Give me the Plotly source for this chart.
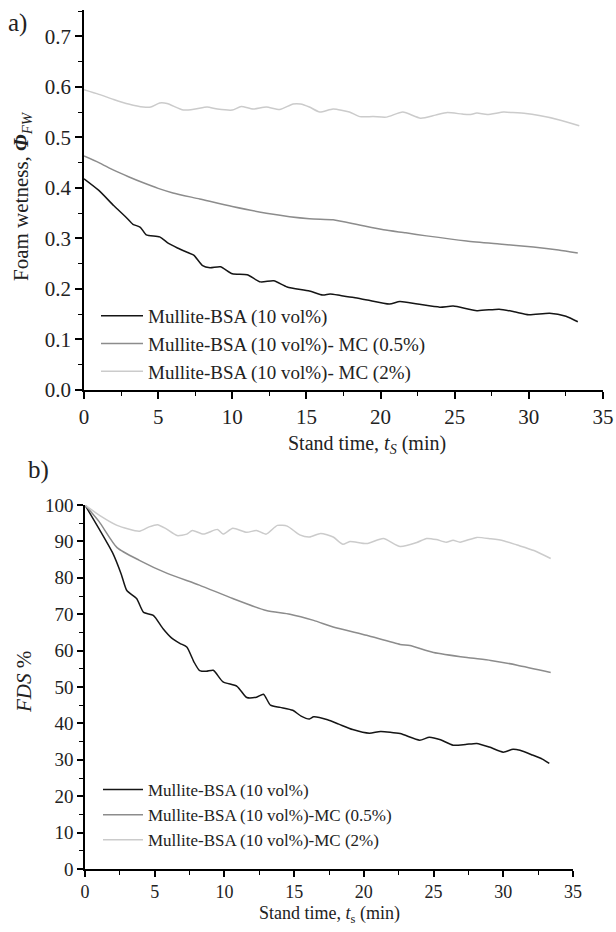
import plotly.graph_objects as go

# ---- Data: panel a) foam wetness ----
t_a_bsa = [0, 1, 2, 2.9, 3.3, 3.8, 4.2, 5.1, 5.7, 6.3, 7.0, 7.4, 8.0, 8.5, 9.2, 10.0, 11.0, 11.9, 12.8, 13.7,
           15.2, 16.1, 16.6, 17.3, 18.2, 19.1, 20.6, 21.3, 22.5, 24.0, 24.9, 26.5, 28.0, 29.0, 30.0, 31.4, 32.5, 33.3]
v_a_bsa = [0.418, 0.395, 0.365, 0.340, 0.328, 0.322, 0.307, 0.303, 0.290, 0.281, 0.272, 0.267, 0.246, 0.242, 0.244,
           0.230, 0.228, 0.214, 0.216, 0.204, 0.196, 0.188, 0.190, 0.187, 0.183, 0.178, 0.170, 0.175, 0.170, 0.164,
           0.166, 0.157, 0.160, 0.155, 0.149, 0.152, 0.146, 0.135]
t_a_mc05 = [0, 1, 2, 3, 4, 5, 6, 7.8, 10, 12.3, 15.2, 16.8, 18.5, 20.2, 21.7, 23.1, 25.8, 28, 30.3, 32, 33.3]
v_a_mc05 = [0.463, 0.450, 0.435, 0.422, 0.410, 0.399, 0.390, 0.378, 0.363, 0.350, 0.339, 0.337, 0.327, 0.317, 0.311,
            0.305, 0.295, 0.289, 0.283, 0.277, 0.271]
t_a_mc2 = [0, 1, 2, 3, 4, 4.5, 5.1, 5.6, 6.7, 7.5, 8.3, 9, 10, 10.6, 11.4, 12.3, 13.2, 14.1, 14.6, 15.2, 15.9, 16.8,
           17.9, 18.6, 19.5, 20.4, 21.5, 22.7, 23.7, 24.5, 25.5, 26, 26.5, 27.2, 28.3, 28.9, 29.8, 30.7, 32, 33.4]
v_a_mc2 = [0.594, 0.585, 0.575, 0.566, 0.560, 0.560, 0.568, 0.567, 0.554, 0.556, 0.560, 0.556, 0.554, 0.561, 0.556,
           0.560, 0.555, 0.566, 0.566, 0.560, 0.550, 0.556, 0.550, 0.541, 0.541, 0.540, 0.550, 0.538, 0.544, 0.549,
           0.546, 0.545, 0.548, 0.545, 0.550, 0.549, 0.547, 0.543, 0.535, 0.523]

# ---- Data: panel b) FDS % ----
t_b_bsa = [0, 1, 2.0, 2.6, 3.0, 3.7, 4.2, 4.9, 5.6, 6.2, 6.8, 7.3, 7.8, 8.2, 8.7, 9.2, 9.9, 10.9, 11.6, 12.3, 12.8,
           13.3, 14, 14.9, 15.5, 16.1, 16.4, 17.4, 18.2, 19.2, 20.4, 21.2, 22.6, 24.0, 24.7, 25.5, 26.4, 27.3, 28.1,
           29, 30, 30.7, 31.2, 32.1, 32.8, 33.3]
v_b_bsa = [100, 93.5, 86.7, 81, 76.5, 74.3, 70.5, 69.7, 66, 63.5, 62, 61, 57, 54.6, 54.3, 54.6, 51.4, 50.2, 47.1,
           47.2, 48, 45, 44.4, 43.6, 42, 41.2, 41.8, 41, 39.8, 38.3, 37.3, 37.8, 37.2, 35.4, 36.2, 35.5, 34, 34.2,
           34.5, 33.5, 32.1, 32.9, 32.6, 31.3, 30.2, 29]
t_b_mc05 = [0, 1, 2.3, 3.9, 5.9, 8.2, 10.6, 13, 14.7, 16.4, 17.8, 20.2, 22.6, 23.3, 25, 27.4, 29.1, 31, 33.4]
v_b_mc05 = [100, 95.5, 88.3, 84.8, 81.2, 78, 74.3, 71, 70, 68.3, 66.5, 64.2, 61.7, 61.4, 59.5, 58.1, 57.3, 56, 54]
t_b_mc2 = [0, 1.1, 2.3, 3.9, 4.6, 5.2, 5.8, 6.6, 7.3, 7.7, 8.5, 9.5, 9.9, 10.6, 11.6, 12.3, 13, 13.8, 14.5, 15.4,
           16.1, 16.9, 17.8, 18.5, 19, 20.2, 21.4, 22.6, 23.8, 24.5, 25.2, 25.9, 26.4, 26.9, 28.1, 29.1, 30, 31,
           32.2, 33.4]
v_b_mc2 = [100, 97, 94.4, 92.8, 94, 94.6, 93.5, 91.6, 92, 93, 92, 93.3, 92, 93.6, 92.5, 93, 92, 94.4, 94.2, 91.8,
           91.2, 92.2, 91.2, 89.2, 90, 89.4, 90.8, 88.6, 89.7, 90.8, 90.5, 89.8, 90.3, 89.8, 91.1, 90.7, 90.2, 89,
           87.5, 85.3]

names_a = ["Mullite-BSA (10 vol%)", "Mullite-BSA (10 vol%)- MC (0.5%)", "Mullite-BSA (10 vol%)- MC (2%)"]
names_b = ["Mullite-BSA (10 vol%)", "Mullite-BSA (10 vol%)-MC (0.5%)", "Mullite-BSA (10 vol%)-MC (2%)"]
colors = ["#151515", "#8c8c8c", "#cbcbcb"]

FONT = "Liberation Serif, Times New Roman, serif"
TXT = "#222"
fig = go.Figure()

for t, v, n, c in zip([t_a_bsa, t_a_mc05, t_a_mc2], [v_a_bsa, v_a_mc05, v_a_mc2], names_a, colors):
    fig.add_trace(go.Scatter(x=t, y=v, name=n, mode="lines",
                             line=dict(color=c, width=1.5, shape="spline", smoothing=0.6),
                             xaxis="x", yaxis="y", legend="legend"))
for t, v, n, c in zip([t_b_bsa, t_b_mc05, t_b_mc2], [v_b_bsa, v_b_mc05, v_b_mc2], names_b, colors):
    fig.add_trace(go.Scatter(x=t, y=v, name=n, mode="lines",
                             line=dict(color=c, width=1.5, shape="spline", smoothing=0.6),
                             xaxis="x2", yaxis="y2", legend="legend2"))

W, H = 616, 932
def dx(a, b): return [a / W, b / W]
def dy(top, bot): return [1 - bot / H, 1 - top / H]

axis_common = dict(showline=True, linecolor="black", linewidth=1.5, ticks="outside", tickwidth=1.5,
                   tickcolor="black", showgrid=False, zeroline=False, mirror=False, automargin=False)

fig.update_layout(
    width=W, height=H, margin=dict(l=0, r=0, t=0, b=0, autoexpand=False),
    paper_bgcolor="white", plot_bgcolor="white",
    font=dict(family=FONT, color=TXT),
    xaxis=dict(domain=dx(84, 603), range=[0, 35], dtick=5, ticklen=7, anchor="y",
               minor=dict(ticks="outside", dtick=2.5, ticklen=4, tickwidth=1.2, tickcolor="black"),
               tickfont=dict(size=21, family=FONT, color=TXT), **axis_common),
    yaxis=dict(domain=dy(10, 390), range=[0, 0.752], tickvals=[0, .1, .2, .3, .4, .5, .6, .7],
               ticktext=["0.0", "0.1", "0.2", "0.3", "0.4", "0.5", "0.6", "0.7"], ticklen=7, anchor="x",
               minor=dict(ticks="outside", tickvals=[.05, .15, .25, .35, .45, .55, .65, .75], ticklen=4,
                          tickwidth=1.2, tickcolor="black"),
               tickfont=dict(size=21, family=FONT, color=TXT), **axis_common),
    xaxis2=dict(domain=dx(85, 573), range=[0, 35], dtick=5, ticklen=6, anchor="y2",
                minor=dict(ticks="outside", dtick=2.5, ticklen=4, tickwidth=1.2, tickcolor="black"),
                tickfont=dict(size=18, family=FONT, color=TXT), **axis_common),
    yaxis2=dict(domain=dy(505, 869), range=[0, 100], dtick=10, ticklen=6, anchor="x2",
                minor=dict(ticks="outside", dtick=5, ticklen=4, tickwidth=1.2, tickcolor="black"),
                tickfont=dict(size=19, family=FONT, color=TXT), **axis_common),
    legend=dict(x=96 / W, y=1 - 297 / H, xanchor="left", yanchor="top", bgcolor="rgba(0,0,0,0)",
                itemwidth=42, font=dict(size=19, family=FONT, color=TXT), tracegroupgap=0),
    legend2=dict(x=98 / W, y=1 - 772 / H, xanchor="left", yanchor="top", bgcolor="rgba(0,0,0,0)",
                 itemwidth=40, font=dict(size=17, family=FONT, color=TXT), tracegroupgap=0),
)

ann = [
    dict(text="a)", x=17 / W, y=1 - 23 / H, font=dict(size=25)),
    dict(text="b)", x=38 / W, y=1 - 470 / H, font=dict(size=25)),
    dict(text="Stand time, <i>t</i><sub><i>S</i></sub> (min)", x=367 / W, y=1 - 445 / H, font=dict(size=20)),
    dict(text="Foam wetness, <b><i>Φ</i></b><sub><i>FW</i></sub>", x=22 / W, y=1 - 196 / H, textangle=-90,
         font=dict(size=21)),
    dict(text="Stand time, <i>t</i><sub>s</sub> (min)", x=329 / W, y=1 - 914 / H, font=dict(size=18)),
    dict(text="<i>FDS</i> %", x=24 / W, y=1 - 682 / H, textangle=-90, font=dict(size=21)),
]
for a in ann:
    a.update(xref="paper", yref="paper", showarrow=False, xanchor="center", yanchor="middle")
    a["font"] = dict(family=FONT, color=TXT, **a["font"])
fig.update_layout(annotations=ann)

fig.write_html("out.html", config={"displayModeBar": False},
               post_script="document.body.style.margin='0';document.documentElement.style.overflow='hidden';")
